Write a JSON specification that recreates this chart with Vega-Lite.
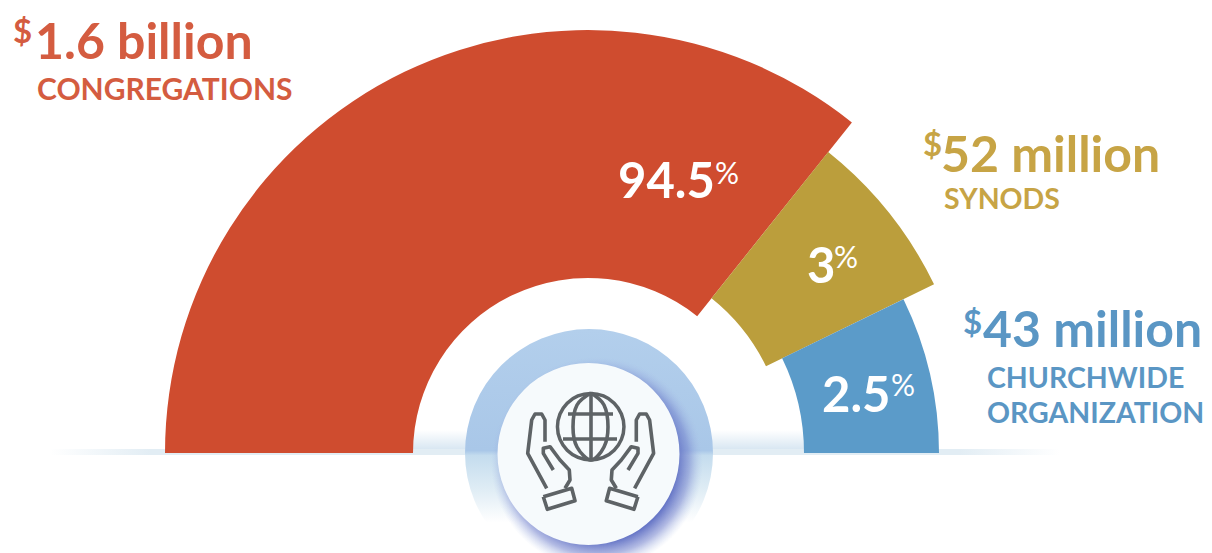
{"$schema":"https://vega.github.io/schema/vega-lite/v6.json","width":1212,"height":553,"padding":0,"autosize":"none","background":"#ffffff","config":{"view":{"stroke":null},"text":{"font":"Lato","align":"left","baseline":"alphabetic"}},
"resolve":{"scale":{"color":"independent"}},
"encoding":{"x":{"field":"x","type":"quantitative","scale":{"domain":[0,1212]},"axis":null},"y":{"field":"y","type":"quantitative","scale":{"domain":[0,553],"reverse":true},"axis":null}},
"layer":[
{"data":{"values":[{"x":413,"x2":804,"y":430,"y2":454}]},"mark":{"type":"rect","fill":{"gradient":"linear","x1":0,"y1":0,"x2":0,"y2":1,"stops":[{"offset":0,"color":"#ffffff"},{"offset":1,"color":"#cfe1ef"}]}},"encoding":{"x2":{"field":"x2"},"y2":{"field":"y2"}}},
{"data":{"values":[{"x":50,"x2":1060,"y":449,"y2":455}]},"mark":{"type":"rect","fill":{"gradient":"linear","x1":0,"y1":0,"x2":1,"y2":0,"stops":[{"offset":0,"color":"#ffffff"},{"offset":0.1,"color":"#e2edf4"},{"offset":0.9,"color":"#e2edf4"},{"offset":1,"color":"#ffffff"}]}},"encoding":{"x2":{"field":"x2"},"y2":{"field":"y2"}}},
{"data":{"values":[{"segment":"Congregations","x":588,"y":453,"start":-90,"end":38.6,"inner":175,"outer":423},{"segment":"Synods","x":588,"y":453,"start":38.6,"end":64,"inner":198,"outer":385},{"segment":"Churchwide organization","x":588,"y":453,"start":64,"end":90,"inner":216,"outer":351}]},"mark":{"type":"arc"},"encoding":{"theta":{"field":"start","type":"quantitative","scale":{"domain":[-90,90],"range":[-1.5707963,1.5707963]}},"theta2":{"field":"end"},"radius":{"field":"outer","type":"quantitative","scale":null},"radius2":{"field":"inner"},"color":{"field":"segment","type":"nominal","legend":null,"scale":{"domain":["Congregations","Synods","Churchwide organization"],"range":["#cf4c2f","#bb9e3c","#5b9bc9"]}}}},
{"data":{"values":[{"x":589,"y":453,"start":-180,"end":180,"inner":0,"outer":124}]},"mark":{"type":"arc","fill":{"gradient":"linear","x1":0,"y1":0,"x2":0,"y2":1,"stops":[{"offset":0,"color":"#b3cfec"},{"offset":0.49,"color":"#a9c7e8"},{"offset":0.51,"color":"#c4dcee"},{"offset":0.65,"color":"#e0edf5"},{"offset":0.78,"color":"#ffffff"}]}},"encoding":{"theta":{"field":"start","type":"quantitative","scale":{"domain":[-90,90],"range":[-1.5707963,1.5707963]}},"theta2":{"field":"end"},"radius":{"field":"outer","type":"quantitative","scale":null},"radius2":{"field":"inner"}}},
{"data":{"values":[{"x":597,"y":463,"start":-180,"end":180,"inner":0,"outer":106}]},"mark":{"type":"arc","fill":{"gradient":"radial","x1":0.5,"y1":0.5,"r1":0,"x2":0.5,"y2":0.5,"r2":0.5,"stops":[{"offset":0.75,"color":"rgba(96,112,196,0.95)"},{"offset":0.87,"color":"rgba(115,130,205,0.55)"},{"offset":1,"color":"rgba(170,190,230,0)"}]}},"encoding":{"theta":{"field":"start","type":"quantitative","scale":{"domain":[-90,90],"range":[-1.5707963,1.5707963]}},"theta2":{"field":"end"},"radius":{"field":"outer","type":"quantitative","scale":null},"radius2":{"field":"inner"}}},
{"data":{"values":[{"x":588.5,"y":454,"start":-180,"end":180,"inner":0,"outer":91}]},"mark":{"type":"arc","fill":"#f6fafc"},"encoding":{"theta":{"field":"start","type":"quantitative","scale":{"domain":[-90,90],"range":[-1.5707963,1.5707963]}},"theta2":{"field":"end"},"radius":{"field":"outer","type":"quantitative","scale":null},"radius2":{"field":"inner"}}},
{"data":{"values":[{"x":590.7,"y":426.7,"start":-180,"end":180,"inner":31.5,"outer":35}]},"mark":{"type":"arc","fill":"#5e6366"},"encoding":{"theta":{"field":"start","type":"quantitative","scale":{"domain":[-90,90],"range":[-1.5707963,1.5707963]}},"theta2":{"field":"end"},"radius":{"field":"outer","type":"quantitative","scale":null},"radius2":{"field":"inner"}}},
{"data":{"values":[
{"part":"g1","i":0,"x":591,"y":393},{"part":"g1","i":1,"x":591,"y":460},
{"part":"g2","i":0,"x":568,"y":414},{"part":"g2","i":1,"x":613,"y":414},
{"part":"g3","i":0,"x":563,"y":439},{"part":"g3","i":1,"x":617,"y":439},
{"part":"cl","i":0,"x":543.3,"y":496.7},{"part":"cl","i":1,"x":571.7,"y":488.3},{"part":"cl","i":2,"x":575,"y":500.7},{"part":"cl","i":3,"x":547.3,"y":509.3},{"part":"cl","i":4,"x":543.3,"y":496.7},
{"part":"cr","i":0,"x":637.9,"y":496.7},{"part":"cr","i":1,"x":609.6,"y":488.3},{"part":"cr","i":2,"x":606.3,"y":500.7},{"part":"cr","i":3,"x":634,"y":509.3},{"part":"cr","i":4,"x":637.9,"y":496.7},
{"part":"fl","i":0,"x":546.7,"y":488.3},{"part":"fl","i":1,"x":527.7,"y":453.3},{"part":"fl","i":2,"x":531.7,"y":420},{"part":"fl","i":3,"x":535,"y":414},{"part":"fl","i":4,"x":541.7,"y":414},{"part":"fl","i":5,"x":545,"y":420},{"part":"fl","i":6,"x":545,"y":441.7},
{"part":"fr","i":0,"x":634.6,"y":488.3},{"part":"fr","i":1,"x":653.6,"y":453.3},{"part":"fr","i":2,"x":649.6,"y":420},{"part":"fr","i":3,"x":646.3,"y":414},{"part":"fr","i":4,"x":639.6,"y":414},{"part":"fr","i":5,"x":636.3,"y":420},{"part":"fr","i":6,"x":636.3,"y":441.7},
{"part":"tl","i":0,"x":553.3,"y":470},{"part":"tl","i":1,"x":543.3,"y":453.3},{"part":"tl","i":2,"x":543.3,"y":448.3},{"part":"tl","i":3,"x":550,"y":446.7},{"part":"tl","i":4,"x":560,"y":460},{"part":"tl","i":5,"x":569.3,"y":470},{"part":"tl","i":6,"x":570,"y":480},{"part":"tl","i":7,"x":565,"y":488.3},
{"part":"tr","i":0,"x":628,"y":470},{"part":"tr","i":1,"x":638,"y":453.3},{"part":"tr","i":2,"x":638,"y":448.3},{"part":"tr","i":3,"x":631.3,"y":446.7},{"part":"tr","i":4,"x":621.3,"y":460},{"part":"tr","i":5,"x":612,"y":470},{"part":"tr","i":6,"x":611.3,"y":480},{"part":"tr","i":7,"x":616.3,"y":488.3}
]},"mark":{"type":"line","stroke":"#5e6366","strokeWidth":3.6,"strokeJoin":"round"},"encoding":{"detail":{"field":"part"},"order":{"field":"i","type":"quantitative"}}},
{"data":{"values":[{"i":0,"x":591,"y":393},{"i":1,"x":577,"y":405},{"i":2,"x":573,"y":427},{"i":3,"x":577,"y":447},{"i":4,"x":591,"y":460},{"i":5,"x":604,"y":447},{"i":6,"x":608,"y":427},{"i":7,"x":604,"y":405},{"i":8,"x":591,"y":393}]},"mark":{"type":"line","stroke":"#5e6366","strokeWidth":3.6,"interpolate":"cardinal"},"encoding":{"order":{"field":"i","type":"quantitative"}}},
{"data":{"values":[{"t":"1.6 billion","x":35,"y":59,"c":"r"},{"t":"52 million","x":941,"y":172,"c":"g"},{"t":"43 million","x":983,"y":347,"c":"b"}]},"mark":{"type":"text","fontSize":50,"fontWeight":"bold"},"encoding":{"text":{"field":"t"},"color":{"field":"c","type":"nominal","legend":null,"scale":{"domain":["r","g","b"],"range":["#d45c40","#c7a445","#5a96c4"]}}}},
{"data":{"values":[{"t":"$","x":13,"y":43,"c":"r"},{"t":"$","x":923,"y":156,"c":"g"},{"t":"$","x":963,"y":334,"c":"b"}]},"mark":{"type":"text","fontSize":33,"fontWeight":"bold"},"encoding":{"text":{"field":"t"},"color":{"field":"c","type":"nominal","legend":null,"scale":{"domain":["r","g","b"],"range":["#d45c40","#c7a445","#5a96c4"]}}}},
{"data":{"values":[{"t":"CONGREGATIONS","x":37,"y":100,"c":"r"}]},"mark":{"type":"text","fontSize":30,"fontWeight":"bold","fill":"#d45c40"},"encoding":{"text":{"field":"t"}}},
{"data":{"values":[{"t":"SYNODS","x":944,"y":209,"c":"g"},{"t":"CHURCHWIDE","x":987,"y":388,"c":"b"},{"t":"ORGANIZATION","x":987,"y":423,"c":"b"}]},"mark":{"type":"text","fontSize":28.5,"fontWeight":"bold"},"encoding":{"text":{"field":"t"},"color":{"field":"c","type":"nominal","legend":null,"scale":{"domain":["g","b"],"range":["#c7a445","#5a96c4"]}}}},
{"data":{"values":[{"t":"94.5","x":618,"y":198},{"t":"3","x":807,"y":283},{"t":"2.5","x":822,"y":412}]},"mark":{"type":"text","fontSize":49,"fontWeight":"bold","fill":"#ffffff"},"encoding":{"text":{"field":"t"}}},
{"data":{"values":[{"t":"%","x":715,"y":184},{"t":"%","x":834,"y":268},{"t":"%","x":891,"y":396}]},"mark":{"type":"text","fontSize":30,"fontWeight":"normal","fill":"#ffffff"},"encoding":{"text":{"field":"t"}}}
]}
